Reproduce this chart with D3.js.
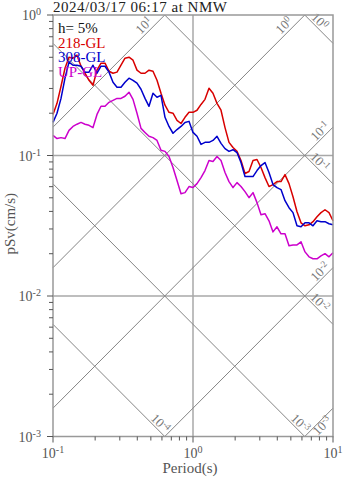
<!DOCTYPE html>
<html><head><meta charset="utf-8">
<script src="https://cdn.jsdelivr.net/npm/d3@7"></script>
<style>
body{margin:0;background:#fff}
svg{display:block}
text{font-family:"Liberation Serif","Times New Roman",serif}
</style></head>
<body><svg id="c" width="347" height="478"></svg>
<script>
// ---- data ----
const periods = [0.1,0.1068,0.1141,0.1218,0.1301,0.1389,0.1484,0.1585,0.1693,0.1808,0.1931,0.2062,0.2202,0.2352,0.2512,0.2683,0.2865,0.3060,0.3268,0.3490,0.3728,0.3981,0.4252,0.4541,0.4850,0.5179,0.5532,0.5908,0.6310,0.6739,0.7197,0.7686,0.8209,0.8767,0.9363,
1.0,1.068,1.141,1.218,1.301,1.389,1.484,1.585,1.693,1.808,1.931,2.062,2.202,2.352,2.512,2.683,2.865,3.060,3.268,3.490,3.728,3.981,4.252,4.541,4.850,5.179,5.532,5.908,6.310,6.739,7.197,7.686,8.209,8.767,9.363,10.0];
const sv218 = [0.196,0.235,0.311,0.418,0.501,0.493,0.518,0.432,0.385,0.343,0.316,0.405,0.454,0.454,0.398,0.385,0.392,0.439,0.493,0.501,0.477,0.405,0.385,0.385,0.405,0.398,0.343,0.277,0.228,0.203,0.200,0.178,0.169,0.187,0.203,
0.203,0.210,0.231,0.251,0.301,0.277,0.235,0.210,0.158,0.124,0.114,0.107,0.0921,0.0744,0.0769,0.0921,0.0936,0.0821,0.0696,0.0601,0.0621,0.0652,0.0652,0.0731,0.0631,0.0509,0.0398,0.0332,0.0316,0.0321,0.0338,0.0367,0.0392,0.0411,0.0392,0.0343];
const sv308 = [0.172,0.200,0.255,0.355,0.462,0.439,0.439,0.432,0.392,0.392,0.439,0.385,0.432,0.432,0.392,0.332,0.306,0.306,0.332,0.355,0.343,0.327,0.296,0.255,0.224,0.277,0.260,0.268,0.187,0.161,0.144,0.153,0.161,0.172,0.175,
0.146,0.137,0.120,0.124,0.124,0.128,0.137,0.122,0.112,0.107,0.110,0.105,0.0891,0.0708,0.0708,0.0708,0.0781,0.0848,0.0891,0.0756,0.0621,0.0591,0.0572,0.0477,0.0425,0.0392,0.0316,0.0311,0.0332,0.0332,0.0316,0.0343,0.0338,0.0338,0.0327,0.0321];
const svUP = [0.139,0.132,0.134,0.132,0.151,0.161,0.167,0.172,0.167,0.164,0.158,0.196,0.224,0.224,0.239,0.247,0.255,0.255,0.264,0.282,0.251,0.200,0.156,0.146,0.137,0.134,0.128,0.109,0.107,0.0984,0.0821,0.0663,0.0535,0.0544,0.0601,
0.0591,0.0631,0.0696,0.0781,0.0921,0.0906,0.0984,0.0921,0.0756,0.0652,0.0591,0.0641,0.0601,0.0553,0.0501,0.0544,0.0462,0.0379,0.0385,0.0343,0.0286,0.0311,0.0277,0.0277,0.0228,0.0231,0.0231,0.0243,0.0206,0.0190,0.0184,0.0184,0.0193,0.0200,0.0190,0.0203];
const seriesNames = ["218-GL","308-GL","UP-GL"];
const seriesColors = ["#d80000","#0000cc","#cc00cc"];
const dispLevels = [1e-4,1e-3,1e-2,1e-1,1];      // displacement (cm)
const dispLabels = ["-4","-3","-2","-1","0"];
const accLevels = [1e-3,1e-2,1e-1,1,10];         // acceleration (cm/s^2)
const accLabels = ["-3","-2","-1","0","1"];
const xMajor = [0.1,1,10], xMajorLabels = ["-1","0","1"];
const yMajor = [0.001,0.01,0.1,1], yMajorLabels = ["-3","-2","-1","0"];
const titleText = "2024/03/17 06:17 at NMW";
const dampText = "h= 5%";

// ---- layout ----
const L=53, R=333, T=15, B=436.5;
const svg = d3.select("#c");
const x = d3.scaleLog().domain([0.1,10]).range([L,R]);
const y = d3.scaleLog().domain([0.001,1]).range([B,T]);
const TWO_PI = 2*Math.PI;

function pow10(sel, exp){
  sel.append("tspan").text("10");
  sel.append("tspan").attr("dy","-0.45em").attr("font-size","0.72em").text(exp);
}

// grid lines
const gridC="#a8a8a8";
svg.append("line").attr("x1",x(1)).attr("x2",x(1)).attr("y1",T).attr("y2",B).attr("stroke",gridC).attr("stroke-width",1.5);
[0.1,0.01].forEach(v=>svg.append("line").attr("x1",L).attr("x2",R).attr("y1",y(v)).attr("y2",y(v)).attr("stroke",gridC).attr("stroke-width",1.5));

// tripartite diagonals
const diagC="#858585";
const labC="#777";
function drawDiag(level, expLabel, kind){
  let f, tA, tB;
  if(kind==="d"){ f=t=>TWO_PI*level/t; tA=Math.max(0.1,TWO_PI*level/1); tB=Math.min(10,TWO_PI*level/0.001); }
  else { f=t=>level*t/TWO_PI; tA=Math.max(0.1,TWO_PI*0.001/level); tB=Math.min(10,TWO_PI*1/level); }
  if(tA>=tB) return;
  const x1=x(tA), y1=y(f(tA)), x2=x(tB), y2=y(f(tB));
  svg.append("line").attr("x1",x1).attr("y1",y1).attr("x2",x2).attr("y2",y2)
     .attr("stroke",diagC).attr("stroke-width",1);
  const s=Math.SQRT1_2;
  const segLen = Math.hypot(x2-x1,y2-y1);
  let dir, nrm, rot, along, nb;
  const atRight = Math.abs(x2-R)<0.5, atTop = Math.abs(y2-T)<0.5;
  if(kind==="d"){
    dir=[s,s]; nrm=[s,-s]; rot=45;
    along = atRight ? -25 : -12.5; nb = 2;
  } else {
    dir=[s,-s]; nrm=[-s,-s]; rot=-45;
    if(atTop){ along=-22; nb=3; }
    else if(segLen<60){ along=-20; nb=-9; }
    else { along=-12; nb=2; }
  }
  const px = x2 + along*dir[0] + nb*nrm[0], py = y2 + along*dir[1] + nb*nrm[1];
  const t = svg.append("text").attr("transform",`translate(${px},${py}) rotate(${rot})`)
     .attr("text-anchor","middle").attr("font-size",13).attr("fill",labC);
  pow10(t, expLabel);
}
dispLevels.forEach((v,i)=>drawDiag(v,dispLabels[i],"d"));
accLevels.forEach((v,i)=>drawDiag(v,accLabels[i],"a"));

// series
const line = d3.line().x(d=>x(d[0])).y(d=>y(d[1]));
[sv218, sv308, svUP].forEach((vals,i)=>{
  svg.append("path").datum(periods.map((p,j)=>[p,vals[j]]))
    .attr("d",line).attr("fill","none").attr("stroke",seriesColors[i])
    .attr("stroke-width",1.5).attr("stroke-linejoin","round");
});

// frame
svg.append("rect").attr("x",L).attr("y",T).attr("width",R-L).attr("height",B-T)
  .attr("fill","none").attr("stroke","#999").attr("stroke-width",1.5);

// ticks
const tickC="#555";
const yTicks = [];
[0.001,0.01,0.1].forEach(d=>{for(let m=1;m<10;m++) yTicks.push(d*m);}); yTicks.push(1);
yTicks.forEach(v=>{
  const major = yMajor.some(M=>Math.abs(M-v)<v*1e-6);
  svg.append("line").attr("x1",L-(major?6:4)).attr("x2",L).attr("y1",y(v)).attr("y2",y(v))
    .attr("stroke",tickC).attr("stroke-width",1);
});
const xTicks = [];
[0.1,1].forEach(d=>{for(let m=1;m<10;m++) xTicks.push(d*m);}); xTicks.push(10);
xTicks.forEach(v=>{
  const major = xMajor.some(M=>Math.abs(M-v)<v*1e-6);
  svg.append("line").attr("y1",B).attr("y2",B+(major?6:4)).attr("x1",x(v)).attr("x2",x(v))
    .attr("stroke",tickC).attr("stroke-width",1);
});
// axis labels
const axC="#555";
yMajor.forEach((v,i)=>{
  const t=svg.append("text").attr("x",L-12).attr("y",y(v)+5).attr("text-anchor","end")
    .attr("font-size",14).attr("fill",axC);
  pow10(t,yMajorLabels[i]);
});
xMajor.forEach((v,i)=>{
  const t=svg.append("text").attr("x",x(v)).attr("y",B+21).attr("text-anchor","middle")
    .attr("font-size",14).attr("fill",axC);
  pow10(t,xMajorLabels[i]);
});
svg.append("text").attr("x",(L+R)/2-3).attr("y",B+36).attr("text-anchor","middle")
  .attr("font-size",15).attr("fill",axC).text("Period(s)");
svg.append("text").attr("transform",`translate(15,${(T+B)/2-2}) rotate(-90)`).attr("text-anchor","middle")
  .attr("font-size",15).attr("fill",axC).text("pSv(cm/s)");

// title
svg.append("text").attr("x",L).attr("y",11.5).attr("font-size",15).attr("letter-spacing",0.5)
  .attr("fill","#222").text(titleText);

// legend
svg.append("text").attr("x",58).attr("y",33).attr("font-size",15).attr("fill","#111").text(dampText);
seriesNames.forEach((n,i)=>{
  svg.append("text").attr("x",58).attr("y",47.5+i*14.8).attr("font-size",15)
    .attr("fill",seriesColors[i]).text(n);
});
</script></body></html>
